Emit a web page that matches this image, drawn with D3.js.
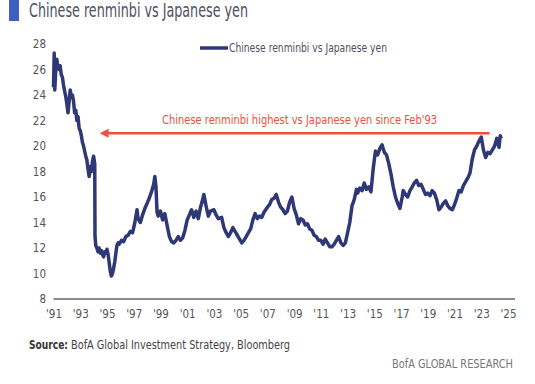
<!DOCTYPE html>
<html>
<head>
<meta charset="utf-8">
<script src="https://cdn.jsdelivr.net/npm/d3@7"></script>
<style>
  body { margin: 0; background: #fff; }
  svg { display: block; }
  .cond { font-family: "DejaVu Sans Condensed", "Liberation Sans Narrow", "Roboto", sans-serif; }
</style>
</head>
<body>
<svg id="chart"></svg>
<script>
/* ------- DADOS ------- */

// datas da série (mensal, aproximado)
var dates = [
  "1991-01-01","1991-01-20","1991-02-05","1991-03","1991-04","1991-05","1991-06","1991-07","1991-08","1991-09","1991-10","1991-11","1991-12",
  "1992-01","1992-02","1992-03","1992-04","1992-05","1992-06","1992-07","1992-08","1992-09","1992-10","1992-11","1992-12",
  "1993-01","1993-02","1993-03","1993-04","1993-05","1993-06","1993-07","1993-08","1993-09","1993-10","1993-11","1993-12",
  "1994-01","1994-02-01","1994-02-08","1994-03","1994-04","1994-05","1994-06","1994-07","1994-08","1994-09","1994-10","1994-11","1994-12",
  "1995-01","1995-02","1995-03","1995-04","1995-05","1995-06","1995-07","1995-08","1995-09","1995-10","1995-11","1995-12",
  "1996-02","1996-04","1996-06","1996-08","1996-10","1996-12",
  "1997-02","1997-04","1997-05","1997-07","1997-09","1997-11",
  "1998-01","1998-03","1998-05","1998-07","1998-08","1998-09","1998-10","1998-11",
  "1999-01","1999-03","1999-05","1999-07","1999-09","1999-11",
  "2000-01","2000-03","2000-05","2000-07","2000-09","2000-11",
  "2001-01","2001-03","2001-05","2001-07","2001-09","2001-11",
  "2002-01","2002-03","2002-04","2002-06","2002-08","2002-10",
  "2003-01","2003-03","2003-05","2003-08","2003-10","2003-12",
  "2004-02","2004-04","2004-06","2004-08","2004-10","2004-12",
  "2005-02","2005-04","2005-06","2005-08","2005-10","2005-12",
  "2006-02","2006-04","2006-06","2006-08","2006-10",
  "2007-01","2007-03","2007-05","2007-07","2007-09","2007-11",
  "2008-01","2008-03","2008-05","2008-07","2008-09","2008-11",
  "2009-01","2009-03","2009-05","2009-07","2009-09","2009-11",
  "2010-01","2010-03","2010-05","2010-07","2010-09","2010-11",
  "2011-01","2011-03","2011-05","2011-07","2011-09","2011-11",
  "2012-01","2012-03","2012-05","2012-07","2012-09","2012-11",
  "2013-01","2013-03","2013-05","2013-07","2013-09","2013-10","2013-12",
  "2014-02","2014-04","2014-06","2014-08","2014-10","2014-12",
  "2015-02","2015-04","2015-06","2015-08","2015-10","2015-12",
  "2016-02","2016-04","2016-06","2016-08","2016-10","2016-12",
  "2017-02","2017-03","2017-05","2017-07","2017-09","2017-11",
  "2018-01","2018-03","2018-05","2018-07","2018-09","2018-11",
  "2019-01","2019-03","2019-05","2019-07","2019-09","2019-11",
  "2020-01","2020-03","2020-05","2020-07","2020-09","2020-11",
  "2021-01","2021-03","2021-05","2021-07","2021-09","2021-11",
  "2022-01","2022-03","2022-05","2022-07","2022-09","2022-11",
  "2023-01","2023-03","2023-05","2023-07","2023-09","2023-11",
  "2024-01","2024-03","2024-05","2024-06","2024-07"
];

// valores CNY/JPY
var values = [
  24.6,27.3,24.4,25.8,26.8,26.2,26.0,26.3,25.6,25.4,24.8,24.3,23.9,
  23.3,22.6,23.4,24.4,23.9,24.0,23.5,22.6,22.8,22.0,22.3,21.4,
  21.2,20.8,20.3,20.0,19.6,19.2,18.9,18.2,17.6,18.4,18.0,18.8,
  19.2,18.6,12.9,12.2,12.0,11.7,12.0,11.6,11.8,11.5,11.3,11.7,11.6,
  11.9,11.5,10.9,10.2,9.8,10.0,10.4,10.9,11.6,12.2,12.4,12.3,
  12.6,12.5,12.9,13.0,13.3,13.2,
  14.0,15.0,14.3,14.0,14.6,15.1,
  15.5,15.9,16.4,17.0,17.6,16.8,14.8,14.5,
  14.9,14.2,14.7,13.8,12.9,12.5,
  12.4,12.6,12.9,12.6,12.8,13.4,
  14.2,14.6,15.0,14.4,14.9,14.3,
  15.2,15.8,16.2,15.3,14.5,14.9,
  15.0,14.6,14.3,14.4,13.6,13.2,
  12.9,13.2,13.6,13.3,13.0,12.7,
  12.4,12.6,12.9,13.2,13.5,14.2,
  14.7,14.3,14.5,14.4,14.8,
  15.2,15.4,15.8,15.9,16.2,15.6,
  15.2,15.0,14.7,14.9,15.6,16.0,
  15.1,14.6,13.9,14.3,14.2,13.8,
  13.9,13.5,13.4,13.0,12.9,12.6,
  12.6,12.3,12.7,12.4,12.1,12.1,
  12.3,12.6,12.9,12.4,12.2,12.4,
  13.2,14.0,15.3,15.8,16.6,16.3,16.7,
  16.5,17.1,16.6,16.8,16.4,18.2,
  19.6,19.3,19.8,20.1,19.5,19.3,
  18.6,17.8,16.8,16.0,15.5,15.1,
  16.0,16.5,16.2,16.0,16.5,16.8,
  17.1,17.3,16.9,17.0,16.6,16.2,
  16.3,16.1,16.5,16.3,15.8,15.0,
  15.2,15.5,15.7,15.3,15.1,15.0,
  15.4,15.9,16.5,16.4,16.9,17.2,
  17.5,17.9,19.0,19.7,20.0,20.4,
  20.7,19.7,19.1,19.5,19.4,19.7,
  20.0,20.6,19.9,20.8,20.6
];

var yTicks = [8,10,12,14,16,18,20,22,24,26,28];
var xTickYears = d3.range(1991, 2026, 2);

// anotação (seta horizontal)
var arrowFrom = "1994-06-15", arrowTo = "2023-08-15", arrowValue = 21;
var arrowText = "Chinese renminbi highest vs Japanese yen since Feb'93";

var titleText = "Chinese renminbi vs Japanese yen";
var legendText = "Chinese renminbi vs Japanese yen";

/* ------- TELA ------- */

var width = 535, height = 384;
var margin = {top: 44, right: 20, bottom: 85, left: 53.5};

var svg = d3.select("#chart")
   .attr("width", width)
   .attr("height", height);

var parse = function(s) {
   return s.length > 7 ? d3.timeParse("%Y-%m-%d")(s) : d3.timeParse("%Y-%m")(s);
};

var data = dates.map(function(d, i) { return {date: parse(d), value: values[i]}; });

var xScale = d3.scaleTime()
   .domain([new Date(1991, 0, 1), new Date(2025, 0, 1)])
   .range([margin.left, 508]);

var yScale = d3.scaleLinear()
   .domain([8, 28])
   .range([height - margin.bottom, margin.top]);

// título + barra azul
svg.append("rect")
   .attr("x", 9).attr("y", 0)
   .attr("width", 10).attr("height", 21)
   .attr("fill", "#3d5fc0");

svg.append("text")
   .attr("class", "cond")
   .attr("x", 29).attr("y", 17)
   .attr("font-size", 19)
   .attr("fill", "#4f5060")
   .attr("textLength", 219)
   .attr("lengthAdjust", "spacingAndGlyphs")
   .text(titleText);

// eixo Y (só rótulos)
svg.append("g")
   .attr("transform", "translate(46,0)")
   .call(d3.axisLeft(yScale).tickValues(yTicks).tickSize(0).tickPadding(0))
   .call(function(g) { g.select(".domain").remove(); })
   .selectAll("text")
   .attr("class", "cond")
   .attr("font-size", 11.5)
   .attr("fill", "#555");

// eixo X
var xAxisG = svg.append("g")
   .attr("transform", "translate(0," + yScale(8) + ")")
   .call(d3.axisBottom(xScale)
      .tickValues(xTickYears.map(function(y) { return new Date(y, 0, 1); }))
      .tickSize(0).tickPadding(11)
      .tickFormat(function(d) { return "'" + d3.timeFormat("%y")(d); }));

xAxisG.select(".domain").remove();
xAxisG.selectAll("text")
   .attr("class", "cond")
   .attr("font-size", 11.5)
   .attr("fill", "#555");

xAxisG.append("line")
   .attr("x1", xScale.range()[0]).attr("x2", width - margin.right)
   .attr("stroke", "#8a8a8a")
   .attr("stroke-width", 2);

// linha da série
var line = d3.line()
   .x(function(d) { return xScale(d.date); })
   .y(function(d) { return yScale(d.value); });

svg.append("path")
   .datum(data)
   .attr("fill", "none")
   .attr("stroke", "#2f3876")
   .attr("stroke-width", 3.5)
   .attr("stroke-linejoin", "round")
   .attr("d", line);

// seta de anotação
var ax1 = xScale(parse(arrowFrom)), ax2 = xScale(parse(arrowTo)), ay = yScale(arrowValue);

svg.append("line")
   .attr("x1", ax1 + 6).attr("x2", ax2)
   .attr("y1", ay).attr("y2", ay)
   .attr("stroke", "#f04e3e")
   .attr("stroke-width", 2.6);

svg.append("path")
   .attr("d", "M" + ax1 + "," + ay + " l9,-4.5 l0,9 z")
   .attr("fill", "#f04e3e");

svg.append("text")
   .attr("class", "cond")
   .attr("x", (ax1 + ax2) / 2 + 5).attr("y", ay - 9)
   .attr("text-anchor", "middle")
   .attr("font-size", 12.5)
   .attr("fill", "#f04e3e")
   .attr("textLength", 275)
   .attr("lengthAdjust", "spacingAndGlyphs")
   .text(arrowText);

// legenda
svg.append("line")
   .attr("x1", 200).attr("x2", 228)
   .attr("y1", 48).attr("y2", 48)
   .attr("stroke", "#2f3876")
   .attr("stroke-width", 3.5);

svg.append("text")
   .attr("class", "cond")
   .attr("x", 229).attr("y", 52)
   .attr("font-size", 11.5)
   .attr("fill", "#4f5060")
   .attr("textLength", 158)
   .attr("lengthAdjust", "spacingAndGlyphs")
   .text(legendText);

// fonte
svg.append("text")
   .attr("class", "cond")
   .attr("x", 29).attr("y", 349)
   .attr("font-size", 12)
   .attr("font-weight", "bold")
   .attr("fill", "#333")
   .attr("textLength", 39)
   .attr("lengthAdjust", "spacingAndGlyphs")
   .text("Source:");

svg.append("text")
   .attr("class", "cond")
   .attr("x", 71).attr("y", 349)
   .attr("font-size", 12)
   .attr("fill", "#444")
   .attr("textLength", 219)
   .attr("lengthAdjust", "spacingAndGlyphs")
   .text("BofA Global Investment Strategy, Bloomberg");

svg.append("text")
   .attr("class", "cond")
   .attr("x", 513).attr("y", 368)
   .attr("text-anchor", "end")
   .attr("font-size", 12)
   .attr("fill", "#777")
   .attr("textLength", 121)
   .attr("lengthAdjust", "spacingAndGlyphs")
   .text("BofA GLOBAL RESEARCH");
</script>
</body>
</html>
